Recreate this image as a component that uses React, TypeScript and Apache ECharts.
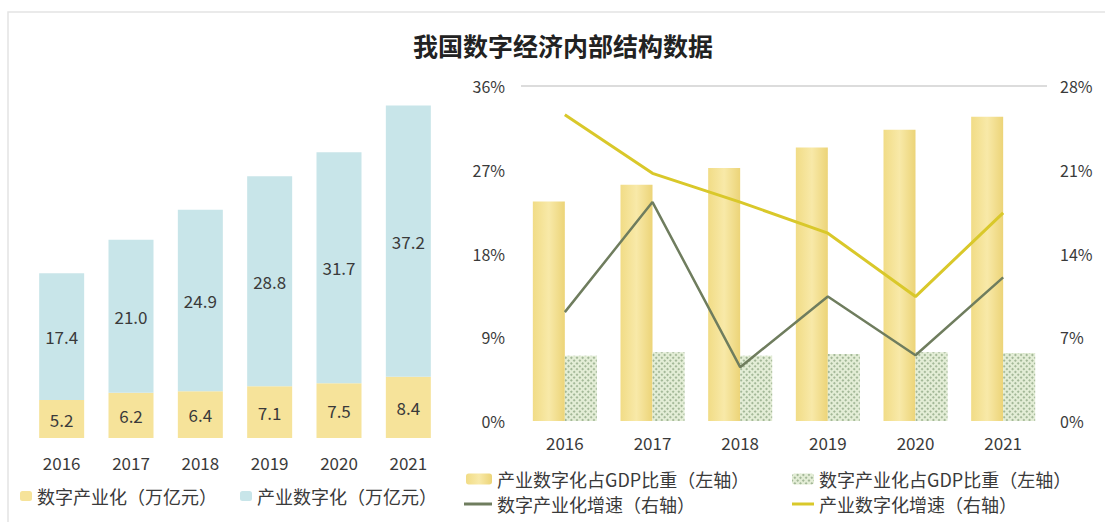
import React, { useEffect, useRef } from "react";
import * as echarts from "echarts";

const years = ["2016", "2017", "2018", "2019", "2020", "2021"];
const digitalIndustry = [5.2, 6.2, 6.4, 7.1, 7.5, 8.4];
const industryDigital = [17.4, 21.0, 24.9, 28.8, 31.7, 37.2];
const industryDigitalShare = [23.6, 25.4, 27.2, 29.4, 31.3, 32.7];
const digitalIndustryShare = [7.0, 7.4, 7.0, 7.2, 7.4, 7.3];
const digitalIndustryGrowth = [9.1, 18.3, 4.5, 10.4, 5.5, 12.0];
const industryDigitalGrowth = [25.6, 20.7, 18.3, 15.7, 10.4, 17.4];
const leftTicks = [0, 9, 18, 27, 36];
const rightTicks = [0, 7, 14, 21, 28];

const FONT = "'Noto Sans CJK SC', 'Noto Sans', sans-serif";
const TXT = "#3a3a3a";

export default function App() {
  const ref = useRef<HTMLDivElement>(null);
  useEffect(() => {
    if (!ref.current) return;
    const chart = echarts.init(ref.current, null, { renderer: "svg" });
    const legendText = { fontSize: 18, color: TXT, fontFamily: FONT };
    const option: any = {
      animation: false,
      backgroundColor: "#ffffff",
      textStyle: { fontFamily: FONT },
      title: {
        text: "我国数字经济内部结构数据",
        left: 558,
        textAlign: "center",
        top: 27,
        textStyle: { fontSize: 25, fontWeight: "bold", color: "#222", fontFamily: FONT },
      },
      graphic: [
        {
          type: "rect",
          shape: { x: 8, y: 12, width: 1100, height: 515 },
          style: { fill: "none", stroke: "#e4e4e4", lineWidth: 1.5 },
          silent: true,
        },
      ],
      legend: [
        { data: ["数字产业化（万亿元）"], left: 20, top: 487, padding: 0, itemWidth: 12, itemHeight: 10, textStyle: legendText },
        { data: ["产业数字化（万亿元）"], left: 240, top: 487, padding: 0, itemWidth: 12, itemHeight: 10, textStyle: legendText },
        { data: ["产业数字化占GDP比重（左轴）"], left: 466, top: 470, padding: 0, itemWidth: 26, itemHeight: 11, textStyle: legendText },
        { data: ["数字产业化占GDP比重（左轴）"], left: 792, top: 470, padding: 0, itemWidth: 22, itemHeight: 11, textStyle: legendText },
        { data: [{ name: "数字产业化增速（右轴）", icon: "rect" }], left: 464, top: 495, padding: 0, itemWidth: 28, itemHeight: 3, textStyle: legendText },
        { data: [{ name: "产业数字化增速（右轴）", icon: "rect" }], left: 792, top: 495, padding: 0, itemWidth: 22, itemHeight: 3, textStyle: legendText },
      ],
      grid: [
        { left: 27, width: 416, top: 88, height: 350 },
        { left: 521, width: 526, top: 86, height: 335 },
      ],
      xAxis: [
        {
          type: "category",
          gridIndex: 0,
          data: years,
          axisLine: { show: false },
          axisTick: { show: false },
          axisLabel: { margin: 16, fontSize: 17, color: TXT, fontFamily: FONT },
        },
        {
          type: "category",
          gridIndex: 1,
          data: years,
          axisLine: { show: false },
          axisTick: { show: false },
          axisLabel: { margin: 13, fontSize: 17, color: TXT, fontFamily: FONT },
        },
      ],
      yAxis: [
        { type: "value", gridIndex: 0, min: 0, max: 48, show: false },
        {
          type: "value",
          gridIndex: 1,
          min: leftTicks[0],
          max: leftTicks[leftTicks.length - 1],
          interval: leftTicks[1] - leftTicks[0],
          axisLine: { show: false },
          axisTick: { show: false },
          axisLabel: { formatter: "{value}%", margin: 16, fontSize: 16, color: TXT, fontFamily: FONT },
          splitLine: {
            show: true,
            lineStyle: { color: ["rgba(0,0,0,0)", "rgba(0,0,0,0)", "rgba(0,0,0,0)", "rgba(0,0,0,0)", "#dcdcdc"], width: 2 },
          },
        },
        {
          type: "value",
          gridIndex: 1,
          position: "right",
          min: rightTicks[0],
          max: rightTicks[rightTicks.length - 1],
          interval: rightTicks[1] - rightTicks[0],
          axisLine: { show: false },
          axisTick: { show: false },
          splitLine: { show: false },
          axisLabel: { formatter: "{value}%", margin: 13, fontSize: 16, color: TXT, fontFamily: FONT },
        },
      ],
      series: [
        {
          name: "数字产业化（万亿元）",
          type: "bar",
          stack: "left",
          xAxisIndex: 0,
          yAxisIndex: 0,
          barWidth: 45,
          data: digitalIndustry,
          itemStyle: { color: "#f6e39a" },
          label: { show: true, position: "inside", fontSize: 17, color: TXT, formatter: (p: any) => p.value.toFixed(1) },
        },
        {
          name: "产业数字化（万亿元）",
          type: "bar",
          stack: "left",
          xAxisIndex: 0,
          yAxisIndex: 0,
          barWidth: 45,
          data: industryDigital,
          itemStyle: { color: "#c8e5e9" },
          label: { show: true, position: "inside", fontSize: 17, color: TXT, formatter: (p: any) => p.value.toFixed(1) },
        },
        {
          name: "产业数字化占GDP比重（左轴）",
          type: "bar",
          xAxisIndex: 1,
          yAxisIndex: 1,
          barWidth: 32,
          barGap: "0%",
          data: industryDigitalShare,
          itemStyle: {
            color: new echarts.graphic.LinearGradient(0, 0, 1, 0, [
              { offset: 0, color: "#f1dc86" },
              { offset: 0.5, color: "#f8e9a8" },
              { offset: 1, color: "#ecd478" },
            ]),
          },
        },
        {
          name: "数字产业化占GDP比重（左轴）",
          type: "bar",
          xAxisIndex: 1,
          yAxisIndex: 1,
          barWidth: 32,
          barGap: "0%",
          data: digitalIndustryShare,
          itemStyle: {
            color: "#e3edd6",
            decal: {
              symbol: "rect",
              symbolSize: 1,
              dashArrayX: [2, 2],
              dashArrayY: [2, 2],
              rotation: Math.PI / 4,
              color: "rgba(110,140,100,0.55)",
            },
          },
        },
        {
          name: "数字产业化增速（右轴）",
          type: "line",
          xAxisIndex: 1,
          yAxisIndex: 2,
          data: digitalIndustryGrowth,
          symbol: "none",
          lineStyle: { color: "#6f7d5e", width: 2.5 },
          itemStyle: { color: "#6f7d5e" },
          z: 5,
        },
        {
          name: "产业数字化增速（右轴）",
          type: "line",
          xAxisIndex: 1,
          yAxisIndex: 2,
          data: industryDigitalGrowth,
          symbol: "none",
          lineStyle: { color: "#d9c82a", width: 3 },
          itemStyle: { color: "#d9c82a" },
          z: 5,
        },
      ],
    };
    chart.setOption(option);
    return () => chart.dispose();
  }, []);
  return (
    <div
      ref={ref}
      style={{ position: "fixed", left: 0, top: 0, width: 1105, height: 522, background: "#fff" }}
    />
  );
}
